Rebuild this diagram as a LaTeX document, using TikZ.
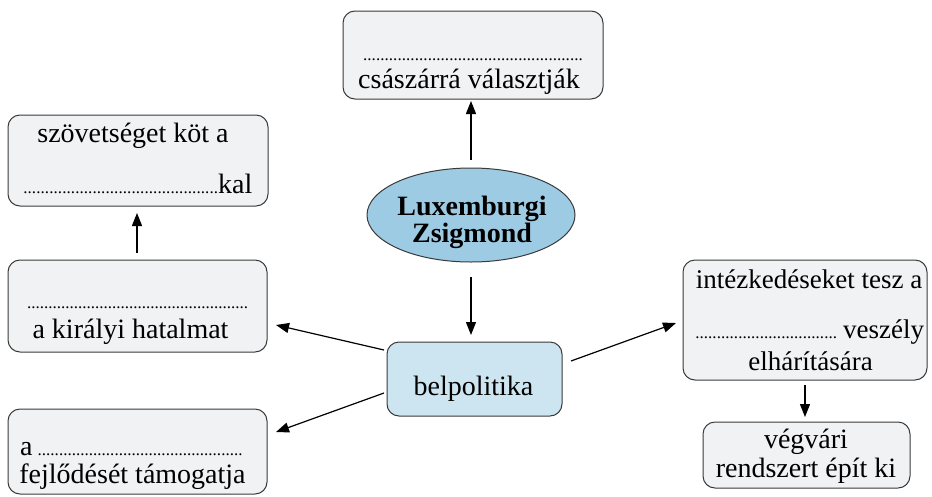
\documentclass[tikz,border=0pt]{standalone}
\usepackage{fontspec}
\setmainfont{Liberation Serif}
\usetikzlibrary{arrows.meta,shapes.geometric,calc}
\definecolor{boxgray}{HTML}{F1F2F4}
\definecolor{ellblue}{HTML}{9DCBE3}
\definecolor{bpblue}{HTML}{CDE5F0}
\definecolor{edge}{HTML}{3A3A3A}
\newcommand\dotrule[1]{\hbox to #1{\fontsize{17}{20}\selectfont\xleaders\hbox{.}\hfill}}
\begin{document}
\begin{tikzpicture}[x=1pt,y=-1pt,
  box/.style={draw=edge, line width=1pt, fill=boxgray, rounded corners=12pt, inner sep=0pt},
  txt/.style={inner sep=0pt, anchor=base, font=\fontsize{28}{32}\selectfont},
  txtl/.style={txt, anchor=base west},
  rtxt/.style={txt, font=\fontsize{27}{32}\selectfont},
  arr/.style={line width=1.2pt, -{Triangle[length=13pt,width=10pt]}}]
\useasboundingbox (0,0) rectangle (932,496);
% boxes
\node[box, minimum width=260pt, minimum height=88pt] (top) at (473,55) {};
\node[box, minimum width=260pt, minimum height=91pt] (l1) at (138,160.5) {};
\node[box, minimum width=259pt, minimum height=92pt] (l2) at (137.5,306) {};
\node[box, minimum width=259pt, minimum height=85pt] (l3) at (137.5,451.5) {};
\node[box, minimum width=244pt, minimum height=120pt] (r1) at (805,320) {};
\node[box, minimum width=207pt, minimum height=66pt] (r2) at (806.5,455) {};
\node[box, fill=bpblue, minimum width=175pt, minimum height=74pt] (bp) at (474.5,379) {};
\node[draw=edge, line width=1pt, fill=ellblue, ellipse, minimum width=208pt, minimum height=94pt, inner sep=0pt] (ell) at (471,215) {};
% texts
\node[txt] (topd) at (473,60) {\dotrule{220pt}};
\node[txt] (topt) at (469,88) {császárrá választják};
\node[txt] (l1a) at (133,142) {szövetséget köt a};
\node[txtl] (l1b) at (23,193) {\dotrule{195pt}kal};
\node[txtl] (l2a) at (27,308) {\dotrule{221pt}};
\node[txt] (l2b) at (130.5,338) {a királyi hatalmat};
\node[txtl] (l3a) at (20,455) {a\hspace{5pt}\dotrule{205pt}};
\node[txt] (l3b) at (132.5,483) {fejlődését támogatja};
\node[rtxt] (r1a) at (809,288) {intézkedéseket tesz a};
\node[rtxt, anchor=base west] (r1b) at (695,338) {\dotrule{142pt}\hspace{6pt}veszély};
\node[rtxt] (r1c) at (810.5,370) {elhárítására};
\node[txt] (r2a) at (806,448) {végvári};
\node[txt] (r2b) at (806,477) {rendszert épít ki};
\node[txt, font=\fontsize{28}{32}\selectfont\bfseries] (ela) at (472,215) {Luxemburgi};
\node[txt, font=\fontsize{28}{32}\selectfont\bfseries] (elb) at (472,242) {Zsigmond};
\node[txt] (bpt) at (473.5,395) {belpolitika};
% arrows
\coordinate (a1s) at (471,160);
\coordinate (a1e) at (471,101);
\coordinate (a2s) at (137,253);
\coordinate (a2e) at (137,213);
\coordinate (a3s) at (471,277);
\coordinate (a3e) at (471,335);
\coordinate (a4s) at (384,350);
\coordinate (a4e) at (276,325);
\coordinate (a5s) at (384,393);
\coordinate (a5e) at (276,432);
\coordinate (a6s) at (571,361);
\coordinate (a6e) at (676,323);
\coordinate (a7s) at (805,385);
\coordinate (a7e) at (805,417);
\draw[arr] (a1s) -- (a1e);
\draw[arr] (a2s) -- (a2e);
\draw[arr] (a3s) -- (a3e);
\draw[arr] (a4s) -- (a4e);
\draw[arr] (a5s) -- (a5e);
\draw[arr] (a6s) -- (a6e);
\draw[arr] (a7s) -- (a7e);
\end{tikzpicture}
\end{document}
